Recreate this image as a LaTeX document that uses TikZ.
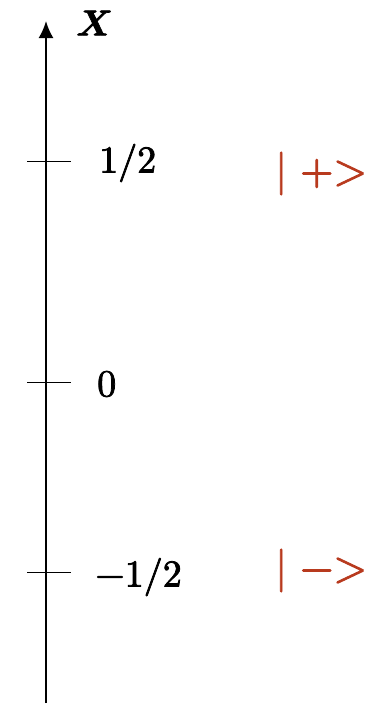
\documentclass[tikz,border=0pt]{standalone}
\usepackage{unicode-math}
\setmathfont{Latin Modern Math}[FakeBold=2]
\usetikzlibrary{arrows.meta}
\definecolor{ketred}{RGB}{184,58,30}
\begin{document}
\begin{tikzpicture}
    [
    x=1pt, y=-1pt, >=latex,
    %Voreinstellung für Beschriftungen
    ticklabel/.style={anchor=west, inner sep=0pt, font=\fontsize{38}{42}\selectfont},
    ketlabel/.style={anchor=west, inner sep=0pt, text=ketred, font=\fontsize{43}{48}\selectfont}
    ]
    
    %Rahmen
    \useasboundingbox (0,0) rectangle (381,705);
    
    %Achse
    \coordinate (bottom) at (46,703);
    \coordinate (top) at (46,21);
    \draw [line width=2pt, -{Latex[length=17pt,width=15pt]}] (bottom) -- (top);
    \node (xlabel) [anchor=west, inner sep=0pt, font=\fontsize{36}{40}\selectfont] at (76,23) {$\symbfit{X}$};
    
    %Striche auf der Achse
    \foreach \y/\name in {161/plus,382/zero,572/minus}
    \draw [line width=1pt] (27,\y) coordinate (l\name) -- (71,\y) coordinate (r\name);
    
    %Zahlen
    \node (lplus) [ticklabel] at (99,163) {$1/2$};
    \node (lzero) [ticklabel] at (97,384) {$0$};
    \node (lminus) [ticklabel] at (95,577) {$-1/2$};
    
    %Zustände
    \node (kplus) [ketlabel] at (275,173.5) {$|\mkern5.4mu{+}{>}$};
    \node (kminus) [ketlabel] at (275,570.5) {$|\mkern5.4mu{-}{>}$};
\end{tikzpicture}
\end{document}
